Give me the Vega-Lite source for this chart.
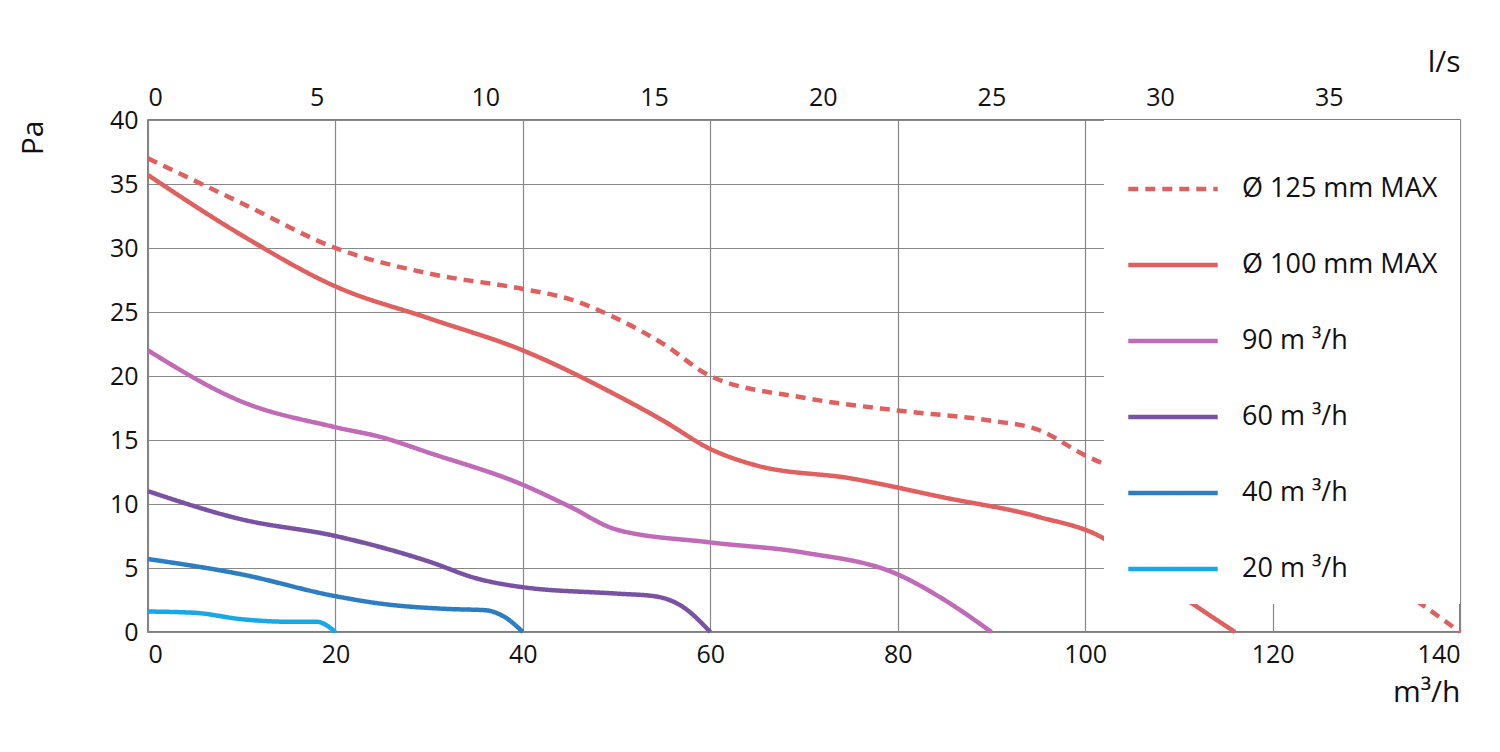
{
  "$schema": "https://vega.github.io/schema/vega-lite/v6.json",
  "width": 1312,
  "height": 512,
  "autosize": "none",
  "padding": {"left": 148, "top": 120, "right": 40, "bottom": 120},
  "config": {
    "font": "Open Sans",
    "view": {"stroke": "#555", "strokeWidth": 1.5},
    "axis": {"labelFontSize": 25, "titleFontSize": 30, "titleFontWeight": "normal", "labelColor": "#111", "titleColor": "#111", "gridColor": "#888", "gridWidth": 1.2, "domain": false, "ticks": false, "labelPadding": 10}
  },
  "data": {"values": [
    {"s": "Ø 125 mm MAX", "q": 0, "p": 37}, {"s": "Ø 125 mm MAX", "q": 10, "p": 33.5}, {"s": "Ø 125 mm MAX", "q": 20, "p": 30}, {"s": "Ø 125 mm MAX", "q": 30, "p": 28}, {"s": "Ø 125 mm MAX", "q": 40, "p": 26.8}, {"s": "Ø 125 mm MAX", "q": 45, "p": 26}, {"s": "Ø 125 mm MAX", "q": 50, "p": 24.5}, {"s": "Ø 125 mm MAX", "q": 55, "p": 22.5}, {"s": "Ø 125 mm MAX", "q": 60, "p": 20}, {"s": "Ø 125 mm MAX", "q": 70, "p": 18.3}, {"s": "Ø 125 mm MAX", "q": 80, "p": 17.3}, {"s": "Ø 125 mm MAX", "q": 90, "p": 16.5}, {"s": "Ø 125 mm MAX", "q": 95, "p": 15.8}, {"s": "Ø 125 mm MAX", "q": 100, "p": 13.8}, {"s": "Ø 125 mm MAX", "q": 110, "p": 11}, {"s": "Ø 125 mm MAX", "q": 120, "p": 8.7}, {"s": "Ø 125 mm MAX", "q": 130, "p": 5}, {"s": "Ø 125 mm MAX", "q": 140, "p": 0},
    {"s": "Ø 100 mm MAX", "q": 0, "p": 35.7}, {"s": "Ø 100 mm MAX", "q": 10, "p": 31}, {"s": "Ø 100 mm MAX", "q": 20, "p": 27}, {"s": "Ø 100 mm MAX", "q": 30, "p": 24.5}, {"s": "Ø 100 mm MAX", "q": 40, "p": 22}, {"s": "Ø 100 mm MAX", "q": 50, "p": 18.5}, {"s": "Ø 100 mm MAX", "q": 55, "p": 16.5}, {"s": "Ø 100 mm MAX", "q": 60, "p": 14.3}, {"s": "Ø 100 mm MAX", "q": 65, "p": 13}, {"s": "Ø 100 mm MAX", "q": 75, "p": 12}, {"s": "Ø 100 mm MAX", "q": 85, "p": 10.5}, {"s": "Ø 100 mm MAX", "q": 95, "p": 9}, {"s": "Ø 100 mm MAX", "q": 102, "p": 7.3}, {"s": "Ø 100 mm MAX", "q": 107, "p": 4.5}, {"s": "Ø 100 mm MAX", "q": 116, "p": 0},
    {"s": "90 m  ³/h", "q": 0, "p": 22}, {"s": "90 m  ³/h", "q": 10, "p": 18}, {"s": "90 m  ³/h", "q": 20, "p": 16}, {"s": "90 m  ³/h", "q": 25, "p": 15.2}, {"s": "90 m  ³/h", "q": 30, "p": 14}, {"s": "90 m  ³/h", "q": 40, "p": 11.5}, {"s": "90 m  ³/h", "q": 45, "p": 9.8}, {"s": "90 m  ³/h", "q": 50, "p": 8}, {"s": "90 m  ³/h", "q": 60, "p": 7}, {"s": "90 m  ³/h", "q": 70, "p": 6.2}, {"s": "90 m  ³/h", "q": 80, "p": 4.5}, {"s": "90 m  ³/h", "q": 85, "p": 2.5}, {"s": "90 m  ³/h", "q": 90, "p": 0},
    {"s": "60 m  ³/h", "q": 0, "p": 11}, {"s": "60 m  ³/h", "q": 10, "p": 8.8}, {"s": "60 m  ³/h", "q": 20, "p": 7.5}, {"s": "60 m  ³/h", "q": 30, "p": 5.5}, {"s": "60 m  ³/h", "q": 35, "p": 4.2}, {"s": "60 m  ³/h", "q": 40, "p": 3.5}, {"s": "60 m  ³/h", "q": 50, "p": 3}, {"s": "60 m  ³/h", "q": 54, "p": 2.8}, {"s": "60 m  ³/h", "q": 57, "p": 2}, {"s": "60 m  ³/h", "q": 60, "p": 0},
    {"s": "40 m  ³/h", "q": 0, "p": 5.7}, {"s": "40 m  ³/h", "q": 10, "p": 4.5}, {"s": "40 m  ³/h", "q": 20, "p": 2.8}, {"s": "40 m  ³/h", "q": 25, "p": 2.2}, {"s": "40 m  ³/h", "q": 32, "p": 1.8}, {"s": "40 m  ³/h", "q": 36, "p": 1.7}, {"s": "40 m  ³/h", "q": 38, "p": 1.2}, {"s": "40 m  ³/h", "q": 40, "p": 0},
    {"s": "20 m  ³/h", "q": 0, "p": 1.6}, {"s": "20 m  ³/h", "q": 5, "p": 1.5}, {"s": "20 m  ³/h", "q": 10, "p": 1}, {"s": "20 m  ³/h", "q": 15, "p": 0.8}, {"s": "20 m  ³/h", "q": 18, "p": 0.8}, {"s": "20 m  ³/h", "q": 20, "p": 0}
  ]},
  "layer": [
    {
      "mark": {"type": "line", "interpolate": "monotone", "strokeWidth": 4.5},
      "encoding": {
        "x": {"field": "q", "type": "quantitative", "scale": {"domain": [0, 140], "nice": false}, "axis": {"title": "m³/h", "titleAnchor": "end", "titlePadding": 10, "values": [0, 20, 40, 60, 80, 100, 120, 140]}},
        "y": {"field": "p", "type": "quantitative", "scale": {"domain": [0, 40]}, "axis": {"title": "Pa", "titleAnchor": "end", "titleAngle": -90, "titleX": -100, "titleY": 0, "titleAlign": "right", "tickCount": 8}},
        "color": {"field": "s", "type": "nominal", "sort": null,
          "scale": {"domain": ["Ø 125 mm MAX", "Ø 100 mm MAX", "90 m  ³/h", "60 m  ³/h", "40 m  ³/h", "20 m  ³/h"], "range": ["#e0605f", "#e0605f", "#c06ab8", "#7a52a3", "#2c7dc2", "#16a8e8"]},
          "legend": {"title": null, "orient": "top-right", "offset": 0, "fillColor": "white", "padding": 22, "labelFontSize": 27, "labelColor": "#111", "labelLimit": 500, "symbolType": "stroke", "symbolSize": 8000, "symbolStrokeWidth": 4.5, "rowPadding": 16, "labelOffset": 22}},
        "strokeDash": {"field": "s", "type": "nominal", "sort": null,
          "scale": {"domain": ["Ø 125 mm MAX", "Ø 100 mm MAX", "90 m  ³/h", "60 m  ³/h", "40 m  ³/h", "20 m  ³/h"], "range": [[10, 7], [1, 0], [1, 0], [1, 0], [1, 0], [1, 0]]}, "legend": null}
      }
    },
    {
      "data": {"values": [{"ls": 0}, {"ls": 38.89}]},
      "mark": {"type": "point", "opacity": 0},
      "encoding": {
        "x": {"field": "ls", "type": "quantitative", "scale": {"domain": [0, 38.89], "nice": false}, "axis": {"orient": "top", "title": "l/s", "titleAnchor": "end", "titlePadding": 8, "grid": false, "values": [0, 5, 10, 15, 20, 25, 30, 35]}}
      }
    }
  ],
  "resolve": {"scale": {"x": "independent"}}
}
